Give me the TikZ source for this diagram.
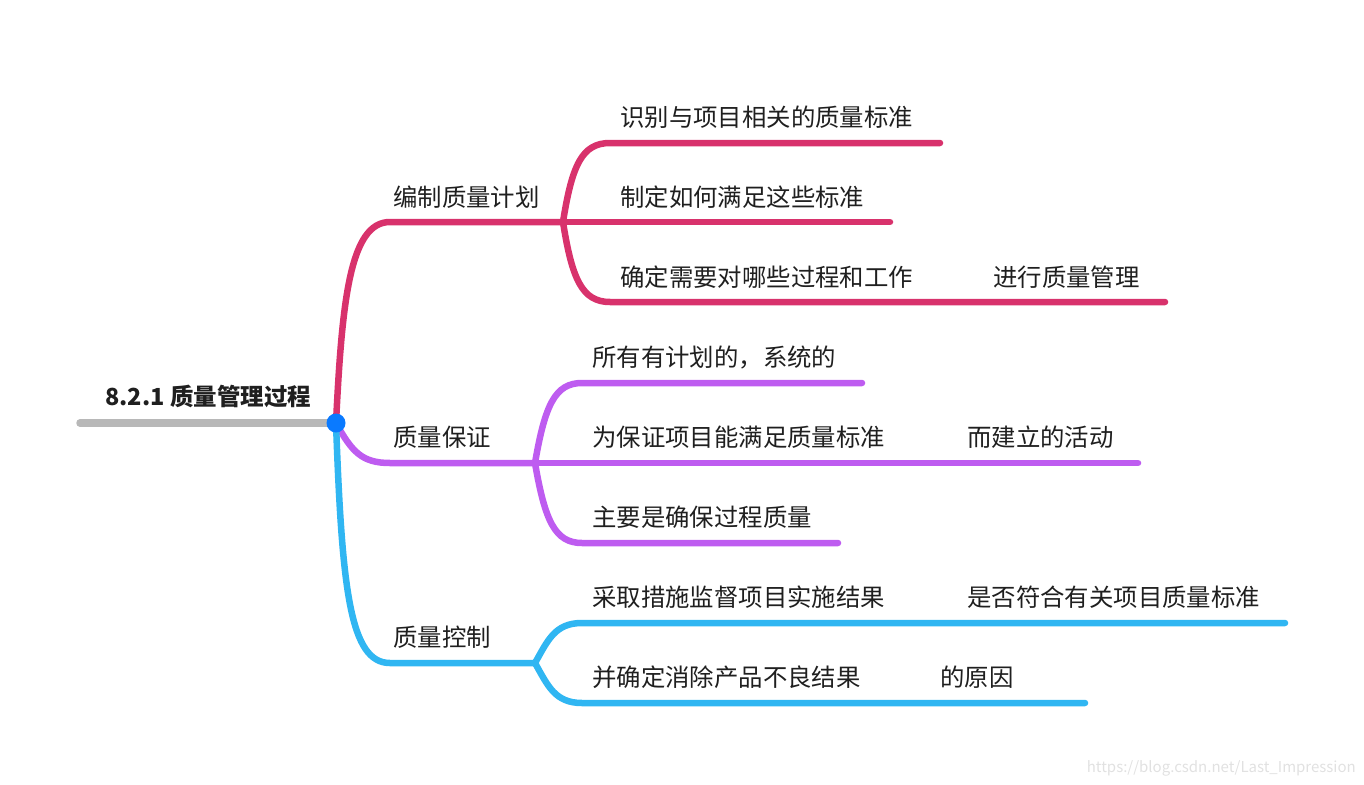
\documentclass[tikz,border=0pt]{standalone}
\usepackage{fontspec}
\setmainfont{Noto Sans CJK SC}
\definecolor{cpink}{RGB}{216,50,108}
\definecolor{cpurple}{RGB}{190,92,240}
\definecolor{cblue}{RGB}{48,182,242}
\definecolor{cdot}{RGB}{10,122,255}
\definecolor{cgray}{RGB}{184,184,184}
\definecolor{cwm}{RGB}{225,225,225}
\begin{document}
\begin{tikzpicture}[x=1pt,y=-1pt,
  lbl/.style={anchor=base west,inner sep=0pt,font=\fontsize{24.4}{27}\selectfont,text=black!88},
  br/.style={line width=6.5pt,line cap=round,line join=round}]
\useasboundingbox (0,0) rectangle (1364,784);
% coordinates
\coordinate (rs) at (80,423);
\coordinate (root) at (336,423);
\coordinate (p1) at (390,222);
\coordinate (pf) at (563,222);
\coordinate (pa) at (610,143);
\coordinate (pae) at (940,143);
\coordinate (pbe) at (890,222);
\coordinate (pc) at (610,302);
\coordinate (pce) at (1165,302);
\coordinate (q1) at (390,463);
\coordinate (qf) at (535,463);
\coordinate (qa) at (582,383);
\coordinate (qae) at (862,383);
\coordinate (qbe) at (1138,463);
\coordinate (qc) at (582,543);
\coordinate (qce) at (838,543);
\coordinate (b1) at (390,663);
\coordinate (bf) at (535,663);
\coordinate (ba) at (582,623);
\coordinate (bae) at (1285,623);
\coordinate (bc) at (582,703);
\coordinate (bce) at (1085,703);
% root
\draw[cgray,line width=7.5pt,line cap=round] (rs) -- (root);
% pink
\draw[br,cpink] (root) .. controls (342,300) and (350,222) .. (p1) -- (pf);
\draw[br,cpink] (pf) .. controls (572,165) and (582,143) .. (pa) -- (pae);
\draw[br,cpink] (pf) -- (pbe);
\draw[br,cpink] (pf) .. controls (572,279) and (582,302) .. (pc) -- (pce);
% purple
\draw[br,cpurple] (root) .. controls (352,452) and (362,463) .. (q1) -- (qf);
\draw[br,cpurple] (qf) .. controls (545,405) and (555,383) .. (qa) -- (qae);
\draw[br,cpurple] (qf) -- (qbe);
\draw[br,cpurple] (qf) .. controls (545,521) and (555,543) .. (qc) -- (qce);
% blue
\draw[br,cblue] (root) .. controls (342,590) and (350,663) .. (b1) -- (bf);
\draw[br,cblue] (bf) .. controls (548,640) and (555,623) .. (ba) -- (bae);
\draw[br,cblue] (bf) .. controls (548,686) and (555,703) .. (bc) -- (bce);
\fill[cdot] (root) circle (9.5);
% labels
\node[lbl,font=\fontsize{23.5}{26}\selectfont\bfseries] (t0) at (105,405) {8.2.1 质量管理过程};
\node[lbl] (t1) at (393,206) {编制质量计划};
\node[lbl] (t11) at (620,126) {识别与项目相关的质量标准};
\node[lbl] (t12) at (620,206) {制定如何满足这些标准};
\node[lbl] (t13) at (620,286) {确定需要对哪些过程和工作};
\node[lbl] (t13b) at (993,286) {进行质量管理};
\node[lbl] (t2) at (393,446) {质量保证};
\node[lbl] (t21) at (592,366) {所有有计划的，系统的};
\node[lbl] (t22) at (592,446) {为保证项目能满足质量标准};
\node[lbl] (t22b) at (967,446) {而建立的活动};
\node[lbl] (t23) at (592,526) {主要是确保过程质量};
\node[lbl] (t3) at (393,646) {质量控制};
\node[lbl] (t31) at (592,606) {采取措施监督项目实施结果};
\node[lbl] (t31b) at (967,606) {是否符合有关项目质量标准};
\node[lbl] (t32) at (592,686) {并确定消除产品不良结果};
\node[lbl] (t32b) at (940,686) {的原因};
\node[anchor=base east,inner sep=0pt,text=cwm,font=\fontsize{15}{17}\selectfont] (wm) at (1356,772) {https://blog.csdn.net/Last\_Impression};
\end{tikzpicture}
\end{document}
